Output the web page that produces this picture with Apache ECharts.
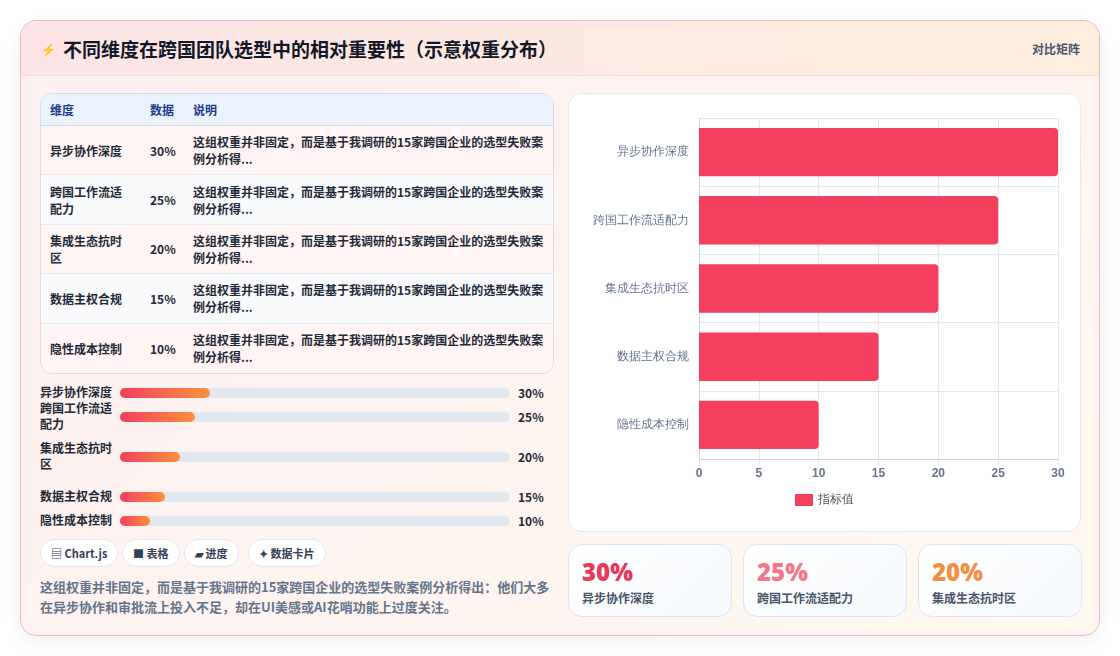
<!DOCTYPE html>
<html><head><meta charset="utf-8">
<script src="https://cdn.jsdelivr.net/npm/echarts@6/dist/echarts.min.js"></script>
<style>
*{box-sizing:border-box;margin:0;padding:0}
body{width:1120px;height:656px;background:#fff;font-family:"Noto Sans CJK SC","Noto Sans",sans-serif;position:relative;overflow:hidden}
.card{position:absolute;left:20px;top:20px;width:1080px;height:616px;border:1px solid #f3b5c0;border-radius:16px;background:linear-gradient(135deg,#fdf0f1,#fef7ef);overflow:hidden;box-shadow:0 6px 20px rgba(0,0,0,0.06)}
.hdr{position:absolute;left:0;top:0;width:100%;height:55px;background:linear-gradient(90deg,#fde4e6,#fdeede);border-bottom:1px solid #f7dcd8}
.title{position:absolute;left:42px;top:14px;font-size:19px;font-weight:700;color:#111827}
.icon{position:absolute;left:20px;top:19px;font-size:12px;color:#4f5bd5}
.mat{position:absolute;right:19px;top:19px;font-size:12px;font-weight:700;color:#475569}
table{position:absolute;left:19px;top:72px;width:514px;border-collapse:separate;border-spacing:0;border:1px solid #d5dce6;border-radius:12px;overflow:hidden;font-size:12px;font-weight:700;color:#1f2937}
th{background:#eaf3fd;color:#1e3a8a;text-align:left;height:32px;padding-left:9px;border-bottom:1px solid #d5dce6}
td{height:49.4px;padding-left:9px;border-bottom:1px solid #e5e9f0;line-height:17px;vertical-align:middle}
tr:last-child td{border-bottom:none}
tr:nth-child(odd) td{background:#f8fafc} tr:nth-child(even) td{background:#fff5f5}
.prow{position:absolute;left:19px;font-size:12px;font-weight:700;color:#1f2937}
.plab{position:absolute;left:0;width:80px;line-height:16px}
.track{position:absolute;left:80px;width:390px;height:10px;border-radius:5px;background:#e2e8f0}
.fill{height:10px;border-radius:5px;background:linear-gradient(90deg,#f43f5e,#fb923c)}
.pval{position:absolute;left:478px;}
.btn{position:absolute;top:518px;height:28px;border:1px solid #e2e8f0;border-radius:14px;background:#fff;font-size:11px;font-weight:700;color:#334155;line-height:26px;padding:0 10px}
.foot{position:absolute;left:19px;top:556px;width:520px;font-size:13px;font-weight:700;color:#64748b;line-height:20px}
#chart{position:absolute;left:547px;top:72px;width:513px;height:439px;background:#fff;border:1px solid #e5e9f0;border-radius:14px}
.kc{position:absolute;top:523px;width:164px;height:73px;border:1px solid #dbe4ef;border-radius:14px;background:linear-gradient(135deg,#fff,#f5f9fd)}
.kv{position:absolute;left:13px;top:10px;font-size:24px;font-weight:800;font-family:"Open Sans","Noto Sans",sans-serif}
.kl{position:absolute;left:13px;top:44px;font-size:12px;font-weight:700;color:#475569}
</style></head><body>
<div class="card">
 <div class="hdr"><span class="icon">⚡</span><div class="title">不同维度在跨国团队选型中的相对重要性（示意权重分布）</div><div class="mat">对比矩阵</div></div>
 <table id="tbl"><tr><th style="width:100px">维度</th><th style="width:43px">数据</th><th>说明</th></tr></table>
 <div id="prog"></div>
 <div class="btn" style="left:19px">▤ Chart.js</div>
 <div class="btn" style="left:101px">■ 表格</div>
 <div class="btn" style="left:163px">▰ 进度</div>
 <div class="btn" style="left:227px">✦ 数据卡片</div>
 <div class="foot">这组权重并非固定，而是基于我调研的15家跨国企业的选型失败案例分析得出：他们大多在异步协作和审批流上投入不足，却在UI美感或AI花哨功能上过度关注。</div>
 <div id="chart"></div>
 <div id="kpis"></div>
</div>
<script>
const categories=["异步协作深度","跨国工作流适配力","集成生态抗时区","数据主权合规","隐性成本控制"];
const progLabels=["异步协作深度","跨国工作流适<br>配力","集成生态抗时<br>区","数据主权合规","隐性成本控制"];
const tableLabels=["异步协作深度","跨国工作流适<br>配力","集成生态抗时<br>区","数据主权合规","隐性成本控制"];
const values=[30,25,20,15,10];
const note="这组权重并非固定，而是基于我调研的15家跨国企业的选型失败案例分析得...";
const progTops=[363,387,427,467,491];
const kpiColors=["#e8395a","#f7768a","#f48f3f"];

const tbl=document.getElementById('tbl');
categories.forEach((c,i)=>{const tr=document.createElement('tr');tr.innerHTML=`<td>${tableLabels[i]}</td><td>${values[i]}%</td><td style="padding-right:8px">${note}</td>`;tbl.appendChild(tr);});
const prog=document.getElementById('prog');
categories.forEach((c,i)=>{const d=document.createElement('div');d.className='prow';d.style.top=progTops[i]+'px';d.style.width='520px';
 const two=progLabels[i].includes('<br>');
 d.innerHTML=`<div class="plab" style="top:${two?-8:0}px">${progLabels[i]}</div><div class="track" style="top:4px"><div class="fill" style="width:${values[i]/130*100}%"></div></div><div class="pval" style="top:0">${values[i]}%</div>`;
 prog.appendChild(d);});
const k=document.getElementById('kpis');
[0,1,2].forEach(i=>{const d=document.createElement('div');d.className='kc';d.style.left=(547+i*175)+'px';d.innerHTML=`<div class="kv" style="color:${kpiColors[i]}">${values[i]}%</div><div class="kl">${categories[i]}</div>`;k.appendChild(d);});

const ch=echarts.init(document.getElementById('chart'));
ch.setOption({
 grid:{left:130,right:22,top:24,bottom:72},
 legend:{bottom:20,itemWidth:18,itemHeight:12,itemGap:6,icon:'rect',textStyle:{color:'#555',fontSize:12},data:['指标值']},
 xAxis:{type:'value',min:0,max:30,interval:5,axisLine:{show:true,lineStyle:{color:'#cbd5e1'}},axisTick:{show:true,length:6,lineStyle:{color:'#e5e7eb'}},splitLine:{lineStyle:{color:'#e5e7eb'}},axisLabel:{color:'#64748b',fontSize:12,fontWeight:'bold',margin:9}},
 yAxis:{type:'category',inverse:true,data:categories,axisLine:{lineStyle:{color:'#cbd5e1'}},axisTick:{show:false},splitLine:{show:true,lineStyle:{color:'#e5e7eb'}},axisLabel:{color:'#64748b',fontSize:12,margin:10}},
 series:[{name:'指标值',type:'bar',data:values,barWidth:'71%',itemStyle:{color:'#f43f5e',borderRadius:[0,4,4,0]}}]
});
</script>
</body></html>
